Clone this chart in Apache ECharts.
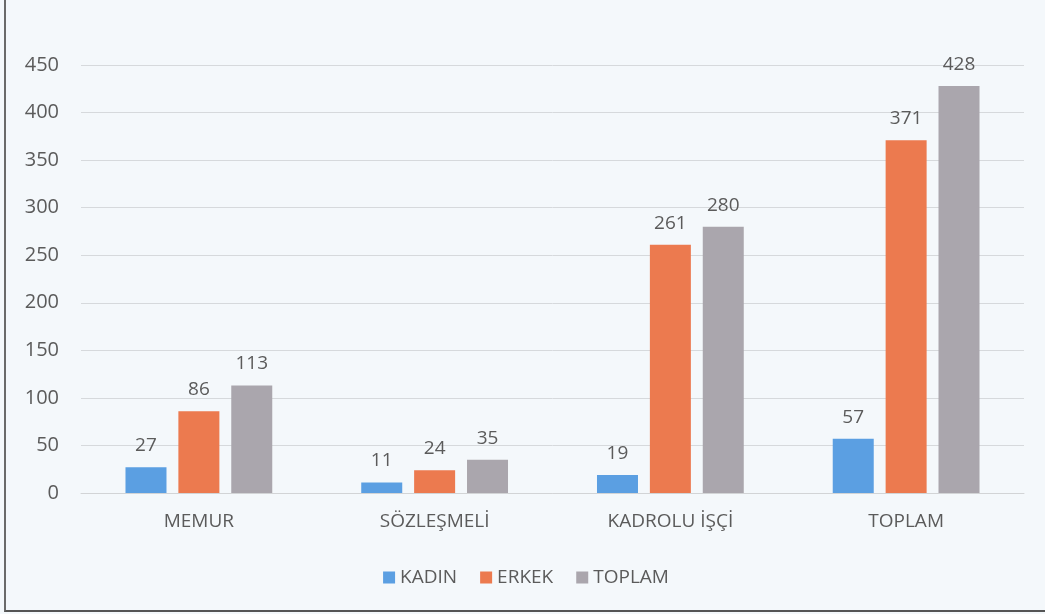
<!DOCTYPE html>
<html lang="tr">
<head>
<meta charset="UTF-8">
<title>Personel Dağılımı</title>
<script src="https://cdn.jsdelivr.net/npm/echarts@6/dist/echarts.min.js"></script>
<style>
    html, body { margin: 0; padding: 0; background: #f4f8fb; }
    #main {
        width: 1040px;
        height: 610px;
        margin-left: 4px;
        border-left: 2px solid #6a6a6a;
        border-bottom: 2px solid #555;
        background: #f4f8fb;
    }
</style>
</head>
<body>
<div id="main"></div>
<script>
    // chart data
    var categories = ['MEMUR', 'SÖZLEŞMELİ', 'KADROLU İŞÇİ', 'TOPLAM'];
    var kadin = [27, 11, 19, 57];
    var erkek = [86, 24, 261, 371];
    var toplam = [113, 35, 280, 428];
    var seriesNames = ['KADIN', 'ERKEK', 'TOPLAM'];
    var colors = ['#5b9fe2', '#ec7a4f', '#aaa6ad'];

    var chart = echarts.init(document.getElementById('main'));
    var txt = '#5b5b5b';
    var font = '"Open Sans", sans-serif';

    function barSeries(name, data, color) {
        return {
            name: name,
            type: 'bar',
            data: data,
            barWidth: 41,
            barGap: '29%',
            itemStyle: { color: color },
            label: {
                show: true,
                position: 'top',
                distance: 12,
                color: txt,
                fontSize: 19,
                fontFamily: font
            }
        };
    }

    chart.setOption({
        animation: false,
        textStyle: { fontFamily: font },
        grid: { left: 75, right: 22, top: 65, bottom: 117 },
        legend: {
            bottom: 18,
            left: 'center',
            itemWidth: 12,
            itemHeight: 12,
            itemGap: 23,
            icon: 'rect',
            textStyle: { color: txt, fontSize: 19, fontFamily: font }
        },
        xAxis: {
            type: 'category',
            data: categories,
            axisLine: { lineStyle: { color: '#d2d4d6' } },
            axisTick: { show: false },
            axisLabel: { color: txt, fontSize: 19, margin: 19, fontFamily: font }
        },
        yAxis: {
            type: 'value',
            min: 0,
            max: 450,
            interval: 50,
            axisLine: { show: false },
            axisTick: { show: false },
            splitLine: { lineStyle: { color: '#d6d9dc' } },
            axisLabel: { color: txt, fontSize: 20, margin: 22, fontFamily: font }
        },
        series: [
            barSeries(seriesNames[0], kadin, colors[0]),
            barSeries(seriesNames[1], erkek, colors[1]),
            barSeries(seriesNames[2], toplam, colors[2])
        ]
    });
</script>
</body>
</html>
